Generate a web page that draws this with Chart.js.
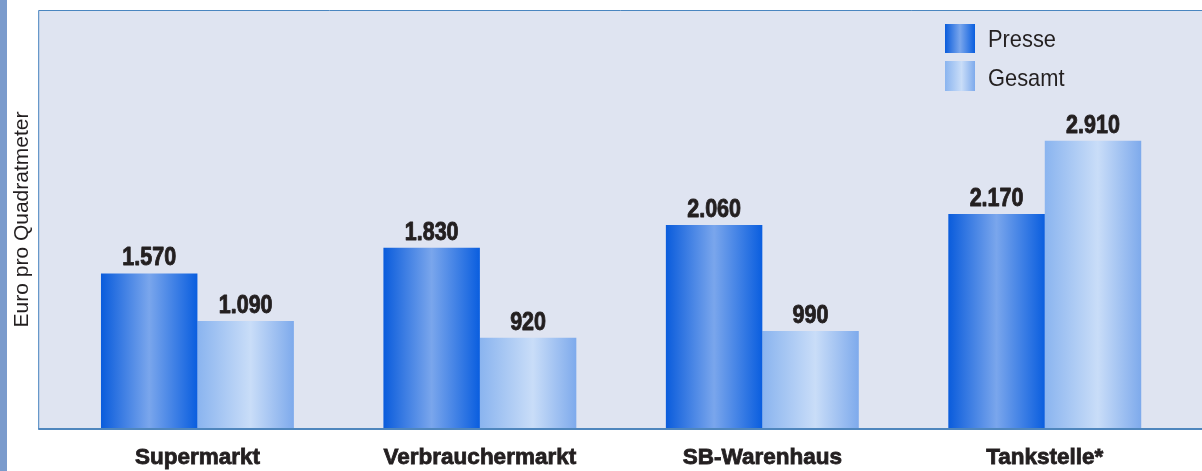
<!DOCTYPE html>
<html><head><meta charset="utf-8">
<script src="https://cdn.jsdelivr.net/npm/chart.js@4.4.1/dist/chart.umd.min.js"></script>
<style>html,body{margin:0;padding:0;background:#fff}#wrap{width:1202px;height:471px;position:relative}</style>
</head><body><div id="wrap"><canvas id="c" width="1202" height="471"></canvas></div>
<script>
const categories = ['Supermarkt', 'Verbrauchermarkt', 'SB-Warenhaus', 'Tankstelle*'];
const presse = [1570, 1830, 2060, 2170];
const gesamt = [1090, 920, 990, 2910];
const seriesNames = ['Presse', 'Gesamt'];
const yTitle = 'Euro pro Quadratmeter';

const FAM = "'Liberation Sans', Arial, sans-serif";
const TXT = '#231f20';
const gradStops = [
  [['#0a5cdc',0],['#7aa6ec',0.5],['#0a5edf',1]],
  [['#8ab4ef',0],['#c9ddf8',0.55],['#7eaaec',1]]
];
function makeGrad(ctx, x0, x1, ds){
  const g = ctx.createLinearGradient(x0,0,x1,0);
  gradStops[ds].forEach(([c,p])=>g.addColorStop(p,c));
  return g;
}
const CAT_PCT = 0.683;
function barColor(c){
  const chart = c.chart, xs = chart.scales && chart.scales.x;
  if (!xs || c.type !== 'data' || !isFinite(xs.width) || xs.width<=0) return gradStops[c.datasetIndex][1][0];
  const catW = xs.width / categories.length;
  const bw = catW * CAT_PCT / 2;
  const center = xs.getPixelForValue(c.dataIndex);
  const left = center - bw + c.datasetIndex * bw;
  return makeGrad(chart.ctx, left, left + bw, c.datasetIndex);
}
function fmt(v){ return String(v).replace(/\B(?=(\d{3})+(?!\d))/g,'.'); }
function squishText(ctx, text, x, y, sx, stroke){
  ctx.save(); ctx.translate(x, y); ctx.scale(sx, 1);
  if (stroke) { ctx.lineWidth = stroke; ctx.strokeStyle = ctx.fillStyle; ctx.lineJoin = 'round'; ctx.strokeText(text, 0, 0); }
  ctx.fillText(text, 0, 0); ctx.restore();
}

const deco = {
  id:'deco',
  beforeDraw(chart){
    const {ctx, chartArea:ca, width, height} = chart;
    ctx.save();
    ctx.fillStyle = '#fff'; ctx.fillRect(0,0,width,height);
    ctx.fillStyle = '#7b9bcc'; ctx.fillRect(0,0,7,height);
    const L = ca.left - 18;
    ctx.fillStyle = '#dfe4f1'; ctx.fillRect(L, ca.top, width - L, ca.bottom - ca.top);
    ctx.strokeStyle = '#4a86c0'; ctx.lineWidth = 1;
    ctx.beginPath();
    ctx.moveTo(L+0.5, ca.bottom); ctx.lineTo(L+0.5, ca.top+0.5); ctx.lineTo(width, ca.top+0.5);
    ctx.stroke();
    ctx.restore();
  },
  afterDatasetsDraw(chart){
    const {ctx, chartArea:ca, width} = chart;
    ctx.save();
    const L = ca.left - 18;
    ctx.strokeStyle = '#4f86bd'; ctx.lineWidth = 2;
    ctx.beginPath(); ctx.moveTo(L, ca.bottom); ctx.lineTo(width, ca.bottom); ctx.stroke();
    // value labels
    ctx.fillStyle = TXT; ctx.font = 'bold 25px ' + FAM;
    ctx.textAlign = 'center'; ctx.textBaseline = 'alphabetic';
    chart.data.datasets.forEach((ds, di) => {
      chart.getDatasetMeta(di).data.forEach((el, i) => {
        squishText(ctx, fmt(ds.data[i]), el.x, el.y - 8, 0.86, 0.9);
      });
    });
    // legend
    const lx = ca.right - 241;
    ctx.font = '24px ' + FAM; ctx.textAlign = 'left'; ctx.textBaseline = 'alphabetic';
    chart.data.datasets.forEach((ds, di) => {
      const by = ca.top + 14 + di * 37;
      ctx.fillStyle = makeGrad(ctx, lx, lx + 30, di);
      ctx.fillRect(lx, by, 30, 29 + di);
      ctx.fillStyle = TXT;
      squishText(ctx, ds.label, lx + 43, ca.top + 37 + di * 39, 0.91, 0);
    });
    ctx.restore();
  }
};

new Chart(document.getElementById('c'), {
  type: 'bar',
  data: {
    labels: categories,
    datasets: [
      {label: seriesNames[0], data: presse, backgroundColor: barColor, borderWidth: 0},
      {label: seriesNames[1], data: gesamt, backgroundColor: barColor, borderWidth: 0}
    ]
  },
  options: {
    responsive: false, animation: false,
    devicePixelRatio: 1,
    layout: {padding: {left: 3, right: 16, top: 10, bottom: 0}},
    plugins: {legend: {display: false}, tooltip: {enabled: false}},
    datasets: {bar: {barPercentage: 1, categoryPercentage: CAT_PCT}},
    scales: {
      x: {
        grid: {display: false, drawTicks: false}, border: {display: false},
        ticks: {color: TXT, textStrokeColor: TXT, textStrokeWidth: 0.8, padding: 15, font: {family: FAM, size: 22.5, weight: 'bold', lineHeight: 1.2}, maxRotation: 0, autoSkip: false},
        afterFit(scale){ scale.height = 42; }
      },
      y: {
        min: 0, max: 4230,
        grid: {display: false, drawTicks: false}, border: {display: false},
        ticks: {display: false},
        title: {display: true, text: yTitle, color: TXT, padding: {top: 7, bottom: 21}, font: {family: FAM, size: 21, weight: 'normal', lineHeight: 1.2}}
      }
    }
  },
  plugins: [deco]
});
</script></body></html>
